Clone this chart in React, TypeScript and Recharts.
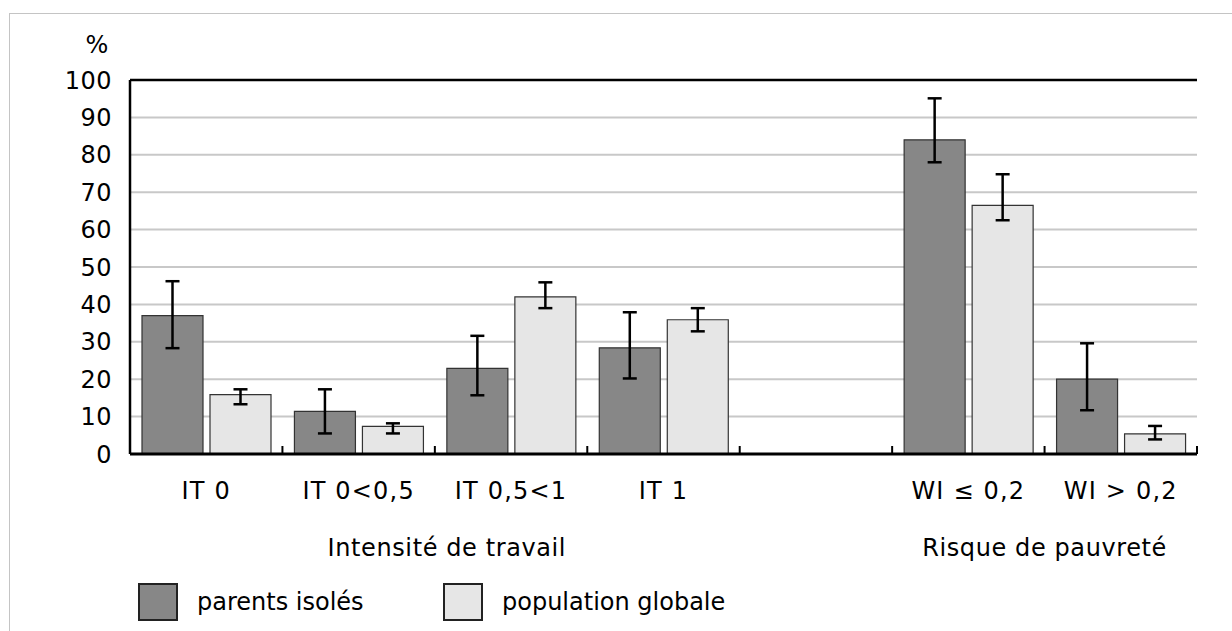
import { Bar, BarChart, CartesianGrid, ErrorBar, ReferenceLine, XAxis, YAxis } from "recharts";

const categories = ["IT 0", "IT 0<0,5", "IT 0,5<1", "IT 1", "", "WI ≤ 0,2", "WI > 0,2"];
const parentsIsoles = [37.0, 11.4, 22.9, 28.4, null, 84.0, 20.0];
const parentsErr = [[8.7, 9.2], [5.9, 5.9], [7.2, 8.7], [8.2, 9.5], null, [6.0, 11.1], [8.3, 9.6]];
const populationGlobale = [15.9, 7.4, 42.0, 35.9, null, 66.5, 5.4];
const populationErr = [[2.6, 1.4], [1.9, 0.8], [3.0, 3.9], [3.1, 3.1], null, [4.0, 8.3], [1.5, 2.1]];
const yTicks = [0, 10, 20, 30, 40, 50, 60, 70, 80, 90, 100];
const groups = [
  { label: "Intensité de travail", start: 0, span: 4 },
  { label: "Risque de pauvreté", start: 5, span: 2 },
];
const series = [
  { key: "parents", name: "parents isolés", color: "#878787" },
  { key: "population", name: "population globale", color: "#e6e6e6" },
];

const data = categories.map((cat, i) => ({
  cat,
  parents: parentsIsoles[i],
  parentsErr: parentsErr[i],
  population: populationGlobale[i],
  populationErr: populationErr[i],
}));

const FONT = "'DejaVu Sans', Verdana, sans-serif";

function CategoryTick(props: any) {
  const { x, y, payload, index } = props;
  const half = payload?.offset ?? 0;
  const last = index === categories.length - 1;
  const group = groups.find((g) => g.start === index);
  return (
    <g>
      <line x1={x - half} x2={x - half} y1={y} y2={y - 8} stroke="#000" strokeWidth={2} />
      {last && <line x1={x + half} x2={x + half} y1={y} y2={y - 8} stroke="#000" strokeWidth={2} />}
      <text x={x} y={y + 45} textAnchor="middle" fontSize={24} letterSpacing={1.2} fontFamily={FONT} fill="#000">
        {payload.value}
      </text>
      {group && (
        <text
          x={x - half + group.span * half + (group.start === 0 ? 12 : 0)}
          y={y + 102}
          textAnchor="middle"
          fontSize={24}
          letterSpacing={0.6}
          fontFamily={FONT}
          fill="#000"
        >
          {group.label}
        </text>
      )}
    </g>
  );
}

export default function App() {
  return (
    <div style={{ position: "absolute", left: 0, top: 0, width: 1232, height: 631, overflow: "hidden", background: "#fff", fontFamily: FONT }}>
      <div style={{ position: "absolute", left: 9, top: 13, width: 1300, height: 700, border: "1px solid #c4c4c4" }} />
      <div style={{ position: "absolute", left: 97, top: 30, transform: "translateX(-50%)", fontSize: 24, lineHeight: "30px" }}>%</div>
      <div style={{ position: "absolute", left: 0, top: 0 }}>
        <BarChart
          width={1232}
          height={631}
          data={data}
          margin={{ top: 80, right: 35, bottom: 147, left: 70 }}
          barGap={7}
          barCategoryGap={12}
        >
          <CartesianGrid vertical={false} stroke="#c8c8c8" strokeWidth={2} />
          <YAxis
            width={60}
            domain={[0, 100]}
            ticks={yTicks}
            interval={0}
            tickLine={false}
            tickSize={0}
            tickMargin={18}
            axisLine={{ stroke: "#000", strokeWidth: 2.5 }}
            tick={{ fill: "#000", fontSize: 24, fontFamily: FONT, letterSpacing: 0.5 }}
          />
          <XAxis
            dataKey="cat"
            height={30}
            interval={0}
            tickLine={false}
            tickSize={0}
            tickMargin={0}
            axisLine={{ stroke: "#000", strokeWidth: 3 }}
            tick={<CategoryTick />}
          />
          <ReferenceLine y={100} stroke="#000" strokeWidth={2.5} />
          {series.map((s) => (
            <Bar
              key={s.key}
              dataKey={s.key}
              name={s.name}
              fill={s.color}
              stroke="#333"
              strokeWidth={1.2}
              isAnimationActive={false}
            >
              <ErrorBar dataKey={`${s.key}Err`} width={7} stroke="#000" strokeWidth={2.5} direction="y" />
            </Bar>
          ))}
        </BarChart>
      </div>
      {series.map((s, i) => (
        <div key={s.key} style={{ position: "absolute", left: i === 0 ? 138 : 443, top: 583, display: "flex", alignItems: "center" }}>
          <div style={{ width: 36, height: 34, background: s.color, border: "2px solid #222" }} />
          <span style={{ marginLeft: 19, fontSize: 24, color: "#000" }}>{s.name}</span>
        </div>
      ))}
    </div>
  );
}
